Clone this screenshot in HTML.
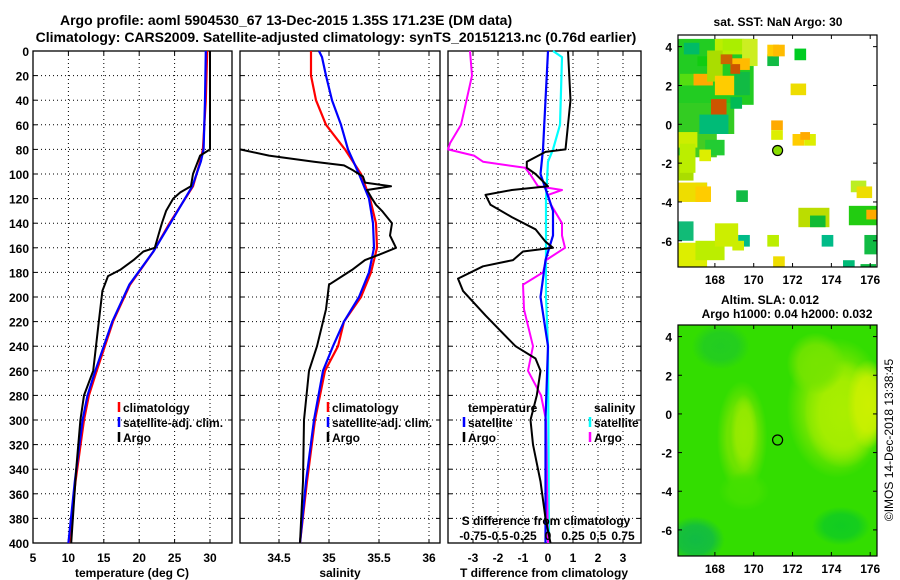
<!DOCTYPE html>
<html><head><meta charset="utf-8"><style>
html,body{margin:0;padding:0;background:#fff;}
svg{display:block;font-family:"Liberation Sans",Arial,sans-serif;font-weight:bold;}
</style></head><body>
<svg id="fig" width="900" height="580" viewBox="0 0 900 580" xmlns="http://www.w3.org/2000/svg">
<text x="60" y="25" font-size="14" text-anchor="start">Argo profile: aoml 5904530_67 13-Dec-2015 1.35S 171.23E (DM data)</text>
<text x="336" y="42" font-size="14" text-anchor="middle">Climatology: CARS2009. Satellite-adjusted climatology: synTS_20151213.nc (0.76d earlier)</text>
<g id="plots"></g>
</svg>
<script>
// ---------- data ----------
const depthTicks=[0,20,40,60,80,100,120,140,160,180,200,220,240,260,280,300,320,340,360,380,400];
const tTicks=[5,10,15,20,25,30];
const sTicks=[34.5,35,35.5,36];
const dTTicks=[-3,-2,-1,0,1,2,3];
const dSTickLabels=["-0.75","-0.5","-0.25","0","0.25","0.5","0.75"];
// temperature profiles [depth, value]
const argoTDepth=[0,40,80,85,100,110,115,120,130,140,150,160,163,170,178,183,195,220,245,260,280,300,340,400];
const argoT=[30.0,30.0,30.0,28.6,27.6,27.3,25.8,24.8,23.8,23.2,22.7,22.2,20.6,19.2,17.3,15.6,14.8,14.3,13.8,13.5,12.2,11.7,11.1,10.4];
const climTDepth=[0,40,80,90,110,140,163,190,220,260,280,300,350,400];
const climT=[29.6,29.4,29.0,28.6,27.6,24.3,22.0,18.7,16.3,14.0,12.9,12.2,11.0,10.1];
const satTDepth=[0,40,80,90,110,140,163,190,220,260,280,300,350,400];
const satT=[29.4,29.3,29.1,28.7,27.5,24.4,22.0,18.6,16.2,13.8,12.7,12.0,10.9,10.0];
// salinity profiles
const climSDepth=[0,20,40,60,80,100,120,140,160,170,180,200,220,240,260,300,350,400];
const climS=[34.82,34.82,34.87,34.97,35.16,35.32,35.41,35.47,35.48,35.45,35.42,35.32,35.15,35.09,34.96,34.86,34.78,34.71];
const satSDepth=[0,5,20,40,60,80,100,120,140,160,180,200,220,240,260,300,350,400];
const satS=[34.90,34.93,34.97,35.03,35.12,35.19,35.30,35.40,35.44,35.45,35.40,35.30,35.15,35.04,34.94,34.85,34.77,34.71];
const argoSDepth=[80,85,90,93,97,102,107,110,113,120,125,130,140,150,160,165,170,178,190,210,230,240,260,300,350,400];
const argoS=[34.10,34.40,34.85,35.15,35.24,35.34,35.36,35.62,35.38,35.43,35.47,35.53,35.63,35.61,35.67,35.52,35.36,35.23,35.00,34.97,34.91,34.88,34.80,34.75,34.74,34.71];
// differences
const argoDTDepth=[0,40,80,82,90,95,100,110,113,117,125,135,145,155,160,163,170,175,185,195,215,240,250,260,280,300,320,350,380,400];
const argoDT=[0.8,0.9,0.7,-0.1,-0.85,-0.85,-0.5,0.0,-1.45,-2.5,-2.3,-1.45,-0.5,-0.1,0.2,-1.0,-1.4,-2.6,-3.6,-3.4,-2.5,-1.3,-0.5,-0.3,-0.45,-0.7,-0.6,-0.3,-0.1,0.1];
const satDTDepth=[0,80,100,130,150,170,200,240,300,400];
const satDT=[0.0,-0.2,-0.3,0.2,0.2,-0.1,-0.3,0.0,-0.1,-0.1];
const argoDSDepth=[0,20,60,75,80,85,90,95,100,110,113,117,125,140,150,160,170,180,190,210,240,260,280,300,400];
const argoDS=[-0.78,-0.76,-0.87,-0.98,-1.0,-0.74,-0.65,-0.23,-0.18,-0.1,0.14,0.0,0.03,0.14,0.14,0.17,-0.02,-0.05,-0.25,-0.24,-0.15,-0.2,-0.07,-0.02,0.0];
const satDSDepth=[0,5,60,80,90,120,200,240,400];
const satDS=[0.05,0.14,0.12,0.05,0.0,-0.02,-0.02,0.0,0.01];
// SST map cells [lon, lat, w, h, color]
const sstCells=[
[166.1,1.0,3.9,3.4,"#22cc22"],[166.1,-0.5,2.9,1.6,"#33cc22"],[166.1,-1.7,2.0,1.2,"#44cc22"],[166.1,-2.9,0.8,1.3,"#aadd00"],
[166.4,3.6,0.8,0.6,"#00bb66"],[167.1,3.0,0.8,0.5,"#11cc11"],[168.0,3.6,1.5,0.8,"#bbee00"],[169.4,3.0,0.8,1.4,"#ccee22"],
[166.2,2.0,1.0,0.6,"#55dd11"],[166.9,2.0,1.0,0.6,"#ffaa00"],[167.6,2.2,0.8,1.6,"#aadd00"],
[168.0,1.5,1.0,1.0,"#ffcc00"],[167.8,0.5,0.8,0.8,"#cc5500"],[168.8,0.8,0.6,0.6,"#00bb55"],
[169.0,1.5,0.8,1.2,"#11bb44"],[168.8,2.8,1.0,0.6,"#ffbb00"],[168.4,3.8,1.0,0.6,"#aaee00"],[168.8,2.6,0.5,0.5,"#cc5500"],
[167.2,-0.5,1.5,1.0,"#00bb77"],[167.5,-1.6,1.0,0.8,"#22cc33"],[166.1,-1.2,1.0,0.8,"#ccee00"],[166.2,-2.5,0.8,1.5,"#bbee00"],
[167.2,-1.9,0.6,0.6,"#ddee00"],[168.3,3.1,0.6,0.5,"#cc6600"],
[170.7,3.0,0.6,0.6,"#11bb44"],[170.7,3.5,0.6,0.6,"#ffcc00"],[171.0,3.5,0.6,0.6,"#ffbb00"],[172.1,3.3,0.6,0.6,"#00cc22"],
[171.9,1.5,0.8,0.6,"#eedd00"],[170.9,-0.3,0.6,0.5,"#ffaa00"],[170.9,-0.8,0.6,0.5,"#ddee00"],[172.0,-1.1,0.6,0.6,"#ffcc00"],
[172.6,-1.1,0.6,0.6,"#ddee00"],[172.4,-0.8,0.5,0.4,"#ffaa00"],[167.0,-3.6,0.6,0.6,"#00aaff"],[166.1,-4.0,1.5,1.0,"#eedd00"],
[167.0,-4.0,0.8,0.8,"#ffcc00"],[169.1,-4.0,0.6,0.6,"#11bb44"],[172.3,-5.3,1.6,1.0,"#bbdd00"],[172.9,-5.3,0.8,0.6,"#11bb33"],
[174.9,-5.2,1.5,1.0,"#22cc11"],[175.0,-3.5,0.8,0.6,"#bbee22"],[175.3,-3.8,0.8,0.6,"#eedd00"],[175.8,-4.9,0.6,0.5,"#ffaa00"],
[166.1,-6.0,0.8,1.0,"#11bb77"],[166.1,-7.4,1.5,1.3,"#ddee00"],[167.0,-7.0,1.5,1.0,"#bbee00"],[168.0,-6.3,1.2,1.2,"#ccee00"],
[169.2,-6.3,0.6,0.6,"#00bb88"],[170.7,-6.3,0.6,0.6,"#bbee00"],[173.5,-6.3,0.6,0.6,"#00bb88"],[175.7,-6.7,0.7,1.0,"#11bb44"],
[171.0,-7.4,0.6,0.6,"#eedd00"],[174.6,-7.4,0.6,0.4,"#00bb77"],[175.5,-7.4,0.8,0.2,"#11bb44"],[168.9,-6.5,0.6,0.5,"#ccee00"]];
const argoLon=[171.23], argoLat=[-1.35];
const lonTicks=[168,170,172,174,176], latTicks=[4,2,0,-2,-4,-6];
// ---------- helpers ----------
const NS="http://www.w3.org/2000/svg";
const root=document.getElementById('plots');
function el(tag,attrs,parent){const e=document.createElementNS(NS,tag);for(const k in attrs)e.setAttribute(k,attrs[k]);(parent||root).appendChild(e);return e;}
function txt(x,y,s,size,anchor,fill,parent){const t=el('text',{x:x,y:y,'font-size':size||12,'text-anchor':anchor||'middle',fill:fill||'#000'},parent);t.textContent=s;return t;}
const top0=51,bot=543;
function yD(d){return top0+(bot-top0)*d/400;}
const xT=v=>33+(v-5)*7.08;
const xS=v=>240+(v-34.11)*100;
const xDT=v=>548+v*25;
const xDS=v=>548+v*100;
function grid(x0,x1,vticks,fx){
  vticks.forEach(v=>{const x=fx(v);if(x>x0+2&&x<x1-2){const g=el('line',{x1:x,x2:x,y1:top0,y2:bot,stroke:'#000','stroke-dasharray':'1,3','stroke-width':1});}});
  depthTicks.forEach(d=>{const y=yD(d);if(d>0&&d<400){const g=el('line',{x1:x0,x2:x1,y1:y,y2:y,stroke:'#000','stroke-dasharray':'1,3','stroke-width':1});}
    el('line',{x1:x0,x2:x0+4,y1:y,y2:y,stroke:'#000'});el('line',{x1:x1,x2:x1-4,y1:y,y2:y,stroke:'#000'});});
  vticks.forEach(v=>{const x=fx(v);el('line',{x1:x,x2:x,y1:bot,y2:bot-4,stroke:'#000'});el('line',{x1:x,x2:x,y1:top0,y2:top0+4,stroke:'#000'});});
  const b=el('rect',{x:x0,y:top0,width:x1-x0,height:bot-top0,fill:'none',stroke:'#000','stroke-width':1.3});
  
}
function line(ds,vs,fx,color,name,w,x0,x1){
  const pts=ds.map((d,i)=>Math.max(x0,Math.min(x1,fx(vs[i]))).toFixed(1)+','+yD(d).toFixed(1)).join(' ');
  const p=el('polyline',{points:pts,fill:'none',stroke:color,'stroke-width':w||2.2,'stroke-linejoin':'round'});
  
}
function legend(x,y,color,label,name){
  el('line',{x1:x,x2:x,y1:y-10,y2:y,stroke:color,'stroke-width':2.5});
  const t=txt(x+4,y,label,12,'start');
}
// ---------- panel 1 ----------
grid(33,232,tTicks,xT);
depthTicks.forEach(d=>{const t=txt(29,yD(d)+5,String(d),12,'end');});
tTicks.forEach(v=>{const t=txt(xT(v),562,String(v),12);});
{const t=txt(132,577,'temperature (deg C)',12);}
line(climTDepth,climT,xT,'#f00','climatology-temperature-line',2.2,33,232);
line(satTDepth,satT,xT,'#00f','satellite-temperature-line',2.2,33,232);
line(argoTDepth,argoT,xT,'#000','argo-temperature-line',2,33,232);
legend(119,412,'#f00','climatology','legend-climatology');
legend(119,427,'#00f','satellite-adj. clim.','legend-satellite-adj');
legend(119,442,'#000','Argo','legend-argo');
// ---------- panel 2 ----------
grid(240,440,sTicks,xS);
sTicks.forEach(v=>{const t=txt(xS(v),562,String(v),12);});
{const t=txt(340,577,'salinity',12);}
line(climSDepth,climS,xS,'#f00','climatology-salinity-line',2.2,240,440);
line(satSDepth,satS,xS,'#00f','satellite-salinity-line',2.2,240,440);
line(argoSDepth,argoS,xS,'#000','argo-salinity-line',2,240,440);
legend(328,412,'#f00','climatology','legend-climatology-2');
legend(328,427,'#00f','satellite-adj. clim.','legend-satellite-adj-2');
legend(328,442,'#000','Argo','legend-argo-2');
// ---------- panel 3 ----------
grid(448,641,dTTicks,xDT);
dTTicks.forEach(v=>{const t=txt(xDT(v),562,String(v),12);});
{const t=txt(544,577,'T difference from climatology',12);}
line(satDSDepth,satDS,xDS,'#0ff','satellite-salinity-diff-line',2.2,448,641);
line(argoDSDepth,argoDS,xDS,'#f0f','argo-salinity-diff-line',2,448,641);
line(satDTDepth,satDT,xDT,'#00f','satellite-temperature-diff-line',2.2,448,641);
line(argoDTDepth,argoDT,xDT,'#000','argo-temperature-diff-line',2,448,641);
{const t=txt(468,412,'temperature',12,'start');}
legend(464,427,'#00f','satellite','legend-t-satellite');
legend(464,442,'#000','Argo','legend-t-argo');
{const t=txt(594,412,'salinity',12,'start');}
legend(590,427,'#0ff','satellite','legend-s-satellite');
legend(590,442,'#f0f','Argo','legend-s-argo');
{const t=txt(546,525,'S difference from climatology',12);}
[-0.75,-0.5,-0.25,0,0.25,0.5,0.75].forEach((v,i)=>{const t=txt(xDS(v),540,dSTickLabels[i],12);});
// ---------- maps ----------
const mx0=678,mx1=877;
const xLon=l=>mx0+(l-166.1)*(mx1-mx0)/10.25;
function mapFrame(y0,y1,yLat,name){
  const f=el('rect',{x:mx0,y:y0,width:mx1-mx0,height:y1-y0,fill:'none',stroke:'#000','stroke-width':1.2});
  
  lonTicks.forEach(l=>{const x=xLon(l);el('line',{x1:x,x2:x,y1:y1,y2:y1-4,stroke:'#000'});el('line',{x1:x,x2:x,y1:y0,y2:y0+4,stroke:'#000'});
    const t=txt(x,y1+17,String(l),12);});
  latTicks.forEach(a=>{const y=yLat(a);el('line',{x1:mx0,x2:mx0+4,y1:y,y2:y,stroke:'#000'});el('line',{x1:mx1,x2:mx1-4,y1:y,y2:y,stroke:'#000'});
    const t=txt(mx0-6,y+5,String(a),12,'end');});
}
// SST map
const s0=35,s1=267;
const yLat1=a=>s0+(4.6-a)*(s1-s0)/11.95;
{const t=txt(778,26,'sat. SST: NaN Argo: 30',12);}
const cp=el('clipPath',{id:'c1'});el('rect',{x:mx0,y:s0,width:mx1-mx0,height:s1-s0},cp);
const sg=el('g',{'clip-path':'url(#c1)'});
sstCells.forEach(c=>{const r=el('rect',{x:xLon(c[0]),y:yLat1(c[1]+c[3]),width:c[2]*19.4,height:c[3]*19.4,fill:c[4]},sg);
  });
{const c=el('circle',{cx:xLon(argoLon[0]),cy:yLat1(argoLat[0]),r:5,fill:'#88dd00',stroke:'#000','stroke-width':1.2});}
mapFrame(s0,s1,yLat1,'sst-map-frame');
// SLA map
const a0=325,a1=556;
const yLat2=a=>a0+(4.6-a)*(a1-a0)/11.95;
{const t=txt(770,304,'Altim. SLA: 0.012',12);}
{const t=txt(787,318,'Argo h1000: 0.04 h2000: 0.032',12);}
const defs=el('defs',{});
const cp2=el('clipPath',{id:'c2'});el('rect',{x:mx0,y:a0,width:mx1-mx0,height:a1-a0},cp2);
const blobs=[[174.3,0.3,2.6,3.6,'#88e800'],[174.6,0.0,2.0,2.8,'#aaee00'],[175.9,0.5,1.1,2.3,'#ccf000'],[169.4,-1.2,1.3,2.9,'#77e400'],[169.5,-1.0,0.7,2.0,'#99ea00'],[173.2,2.6,1.5,1.6,'#77e400'],[169.5,-4.0,1.3,1.0,'#44e000'],[167,-6.5,1.5,1.2,'#11bb44'],[174.5,-5.8,1.5,1.0,'#11cc22'],[168.3,3.5,1.5,1.2,'#22cc22']];
el('rect',{x:mx0,y:a0,width:mx1-mx0,height:a1-a0,fill:'#33dd00'});
blobs.forEach((b,i)=>{const g=el('radialGradient',{id:'bg'+i},defs);el('stop',{offset:'0%','stop-color':b[4],'stop-opacity':1},g);el('stop',{offset:'60%','stop-color':b[4],'stop-opacity':0.85},g);el('stop',{offset:'100%','stop-color':b[4],'stop-opacity':0},g);
  const e=el('ellipse',{cx:xLon(b[0]),cy:yLat2(b[1]),rx:b[2]*19.4,ry:b[3]*19.4,fill:'url(#bg'+i+')','clip-path':'url(#c2)'});});
{const c=el('circle',{cx:xLon(argoLon[0]),cy:yLat2(argoLat[0]),r:5,fill:'none',stroke:'#000','stroke-width':1.2});}
mapFrame(a0,a1,yLat2,'sla-map-frame');
{const t=txt(0,0,'©IMOS 14-Dec-2018 13:38:45',12,'middle','#000');t.setAttribute('transform','translate(893,440) rotate(-90)');t.setAttribute('font-weight','normal');}
</script>
</body></html>
